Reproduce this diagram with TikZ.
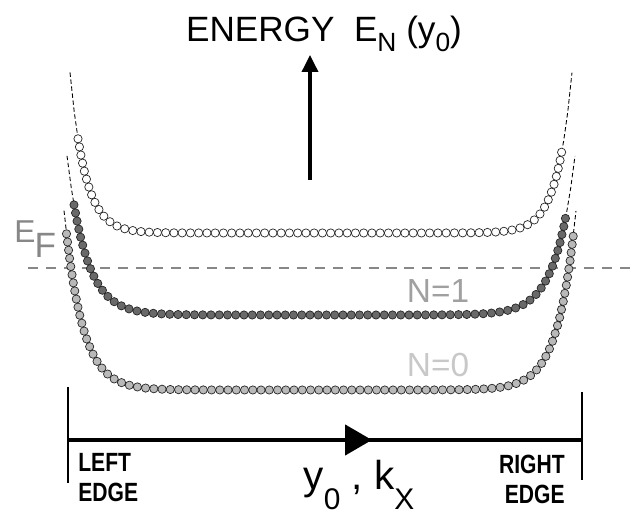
\documentclass[tikz,border=0pt]{standalone}
\usepackage{fontspec}
\setmainfont{Liberation Sans}
\newfontfamily\narrowfont[FakeStretch=0.8]{Liberation Sans}
\usepackage{tikz}
\usetikzlibrary{arrows.meta, decorations.markings}
\definecolor{beaddark}{RGB}{105,105,105}
\definecolor{beadlight}{RGB}{185,185,185}
\definecolor{fermigray}{RGB}{135,135,135}
\definecolor{labelone}{RGB}{160,160,160}
\definecolor{labelzero}{RGB}{200,200,200}
\newcommand\lowsub[3]{\raisebox{-#1}{\fontsize{#2}{#2}\selectfont #3}}

\begin{document}
\begin{tikzpicture}[
    declare function={band(\x,\f,\l,\r,\w)=\f+exp((\l-\x)/\w)+exp((\x-\r)/\w);},
    bead/.style={circle, draw=black!85, fill=#1, line width=0.4pt, inner sep=0pt, minimum size=0.165cm},
    beads/.style={postaction={decorate}, decoration={markings, mark=between positions 0 and 1 step 0.165cm with {\node[bead=#1] {};}}},
    guide/.style={line width=0.5pt, dash pattern=on 2.5pt off 1.5pt},
    lbl/.style={font=\fontsize{19}{22}\selectfont, inner sep=0pt},
    edgelbl/.style={font=\narrowfont\bfseries\fontsize{15}{17}\selectfont, inner sep=0pt}
  ]
    \useasboundingbox (0,0) rectangle (12.7,10.4);

    % energy axis and title
    \node[lbl, anchor=base, font=\fontsize{20}{23}\selectfont] (title) at (6.48,9.56) {ENERGY\ \ E\lowsub{5.5pt}{15}{N} (y\lowsub{5.5pt}{15}{0})};
    \coordinate (ebot) at (6.2,6.8);
    \coordinate (etop) at (6.2,9.3);
    \draw[line width=2pt, -{Triangle[length=0.34cm, width=0.32cm]}] (ebot) -- (etop);

    % Fermi level
    \coordinate (fl) at (0.56,5.04);
    \coordinate (fr) at (12.7,5.04);
    \draw[fermigray, line width=0.85pt, dash pattern=on 5.7pt off 4.5pt] (fl) -- (fr);
    \node[lbl, anchor=base west, text=fermigray, font=\fontsize{18}{20}\selectfont] (ef) at (0.28,5.54) {E\hspace{-0.5pt}\lowsub{8.5pt}{20}{F}};

    % Landau levels, N=2 (top), N=1, N=0
    \draw[guide] plot[domain=1.40:11.44, samples=120] (\x, {band(\x,5.74,1.75,11.09,0.3)});
    \draw[guide] plot[domain=1.34:11.50, samples=120] (\x, {band(\x,4.10,1.78,11.06,0.38)});
    \draw[guide] plot[domain=1.28:11.52, samples=120] (\x, {band(\x,2.60,1.74,11.06,0.36)});
    \path[beads=white] plot[domain=1.56:11.26, samples=150] (\x, {band(\x,5.74,1.75,11.09,0.3)});
    \path[beads=beaddark] plot[domain=1.48:11.34, samples=150] (\x, {band(\x,4.10,1.78,11.06,0.38)});
    \path[beads=beadlight] plot[domain=1.33:11.47, samples=150] (\x, {band(\x,2.60,1.74,11.06,0.36)});
    \node[lbl, anchor=base, text=labelone] (lblone) at (8.76,4.34) {N=1};
    \node[lbl, anchor=base, text=labelzero] (lblzero) at (8.76,2.86) {N=0};

    % sample edges and y0 axis
    \coordinate (ledge) at (1.36,1.6);
    \coordinate (redge) at (11.64,1.6);
    \coordinate (amid) at (7.44,1.6);
    \coordinate (ltop) at (1.36,2.66);
    \coordinate (lbot) at (1.36,0.74);
    \coordinate (rtop) at (11.64,2.56);
    \coordinate (rbot) at (11.64,0.8);
    \draw[line width=2.6pt] (ledge) -- (redge);
    \draw[line width=2.6pt, -{Triangle[length=0.54cm, width=0.6cm]}] (ledge) -- (amid);
    \draw[line width=1.6pt] (ltop) -- (lbot);
    \draw[line width=1.6pt] (rtop) -- (rbot);
    \node[edgelbl, anchor=north west, align=left] (leftedge) at (1.56,1.34) {LEFT\\EDGE};
    \node[edgelbl, anchor=north east, align=right] (rightedge) at (11.3,1.30) {RIGHT\\EDGE};
    \node[lbl, anchor=base, font=\fontsize{23}{26}\selectfont] (axis) at (7.18,0.6) {y\lowsub{11pt}{17}{0} , k\lowsub{11pt}{17}{X}};
  \end{tikzpicture}
\end{document}
